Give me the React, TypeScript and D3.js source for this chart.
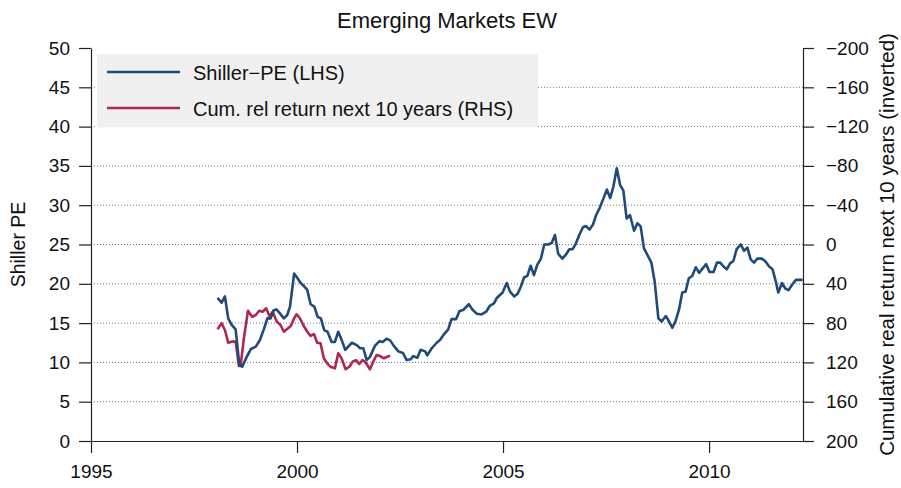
import React, { useEffect, useRef } from 'react';
import * as d3 from 'd3';

// Shiller PE (decimal year, value)
const peDates = [
  1998.07, 1998.17, 1998.25, 1998.33, 1998.41, 1998.51, 1998.6, 1998.67, 1998.78, 1998.88,
  1999.0, 1999.1, 1999.2, 1999.28, 1999.36, 1999.43, 1999.5, 1999.59, 1999.68, 1999.76,
  1999.83, 1999.93, 2000.0, 2000.09, 2000.19, 2000.25, 2000.33, 2000.42, 2000.5, 2000.58,
  2000.66, 2000.74, 2000.84, 2000.92, 2001.0, 2001.08, 2001.17, 2001.33, 2001.45, 2001.53,
  2001.61, 2001.69, 2001.77, 2001.89, 2002.0, 2002.08, 2002.17, 2002.26, 2002.35, 2002.46,
  2002.57, 2002.66, 2002.76, 2002.82, 2002.92, 2003.0, 2003.11, 2003.16, 2003.27, 2003.39,
  2003.47, 2003.57, 2003.67, 2003.75, 2003.86, 2003.94, 2004.04, 2004.17, 2004.26, 2004.36,
  2004.48, 2004.59, 2004.68, 2004.78, 2004.85, 2004.93, 2004.99, 2005.09, 2005.17, 2005.27,
  2005.35, 2005.43, 2005.51, 2005.59, 2005.67, 2005.75, 2005.83, 2005.92, 2006.0, 2006.1,
  2006.18, 2006.26, 2006.34, 2006.44, 2006.53, 2006.61, 2006.69, 2006.77, 2006.85, 2006.94,
  2007.01, 2007.1, 2007.18, 2007.26, 2007.35, 2007.44, 2007.52, 2007.6, 2007.68, 2007.76,
  2007.84, 2007.92, 2008.0, 2008.08, 2008.18, 2008.26, 2008.34, 2008.42, 2008.5, 2008.6,
  2008.68, 2008.77, 2008.85, 2008.95, 2009.03, 2009.11, 2009.19, 2009.27, 2009.35, 2009.43,
  2009.51, 2009.59, 2009.68, 2009.76, 2009.85, 2009.93, 2010.01, 2010.11, 2010.19, 2010.27,
  2010.35, 2010.43, 2010.51, 2010.59, 2010.67, 2010.77, 2010.85, 2010.93, 2011.01, 2011.09,
  2011.17, 2011.28, 2011.36, 2011.46, 2011.54, 2011.6, 2011.68, 2011.77, 2011.85, 2011.93,
  2012.01, 2012.11, 2012.27,
];
const peValues = [
  18.2, 17.6, 18.4, 15.6, 14.8, 14.2, 9.7, 9.45, 10.7, 11.7,
  12.0, 12.85, 14.3, 15.6, 15.6, 16.6, 16.75, 16.2, 15.6, 16.0,
  17.1, 21.3, 20.8, 20.1, 19.6, 19.2, 17.4, 17.1, 15.8, 15.6,
  14.1, 13.9, 12.6, 12.6, 13.9, 12.9, 11.6, 12.5, 12.2, 11.8,
  11.8, 10.3, 10.7, 12.1, 12.7, 12.6, 13.0, 12.8, 12.1, 11.4,
  11.2, 10.3, 10.4, 10.8, 10.6, 11.6, 11.4, 10.9, 11.8, 12.5,
  12.85, 13.6, 14.2, 15.5, 15.5, 16.5, 16.7, 17.4, 16.7, 16.2,
  16.1, 16.45, 17.2, 17.5, 18.2, 18.6, 18.9, 20.1, 19.0, 18.4,
  18.7, 19.6, 20.8, 21.0, 22.3, 21.1, 22.4, 23.2, 25.0, 25.0,
  25.2, 26.2, 23.8, 23.2, 23.75, 24.4, 24.4, 25.15, 26.2, 27.2,
  27.35, 26.9, 27.5, 28.75, 29.7, 30.9, 32.0, 30.9, 32.4, 34.7,
  32.6, 31.85, 28.3, 28.75, 26.75, 27.7, 27.3, 24.5, 23.7, 22.7,
  20.3, 15.6, 15.2, 15.9, 15.2, 14.4, 15.3, 16.7, 18.9, 19.0,
  20.7, 21.0, 22.1, 21.4, 22.0, 22.5, 21.5, 21.5, 22.7, 22.7,
  22.2, 21.85, 22.6, 22.9, 24.4, 25.0, 24.2, 24.6, 23.1, 22.7,
  23.2, 23.2, 22.9, 22.2, 21.85, 20.7, 18.9, 20.1, 19.4, 19.2,
  19.85, 20.5, 20.5,
];

// cumulative relative return over the next 10 years (right axis, inverted)
const retDates = [
  1998.07, 1998.17, 1998.25, 1998.33, 1998.41, 1998.51, 1998.59, 1998.63, 1998.71, 1998.81,
  1998.91, 1999.0, 1999.08, 1999.17, 1999.25, 1999.33, 1999.41, 1999.51, 1999.6, 1999.68,
  1999.76, 1999.85, 1999.93, 1999.99, 2000.07, 2000.15, 2000.25, 2000.33, 2000.41, 2000.49,
  2000.57, 2000.65, 2000.73, 2000.81, 2000.92, 2001.0, 2001.08, 2001.18, 2001.27, 2001.35,
  2001.43, 2001.51, 2001.59, 2001.67, 2001.77, 2001.85, 2001.93, 2002.01, 2002.11, 2002.19,
  2002.26,
];
const retValues = [
  86.3, 80.2, 87.0, 100, 98.9, 98.9, 123.7, 123.7, 95.5, 67.4,
  73.5, 71.8, 67.4, 68.4, 64.9, 72.8, 68.4, 78.6, 81.9, 88.8,
  86.0, 83.0, 75.1, 71.0, 75.1, 81.9, 88.8, 93.1, 91.1, 100,
  100.6, 115.8, 120.9, 124.4, 126.0, 110.7, 115.8, 127.0, 124.4, 119.3,
  117.6, 121.6, 117.6, 120.3, 127.0, 119.3, 112.5, 113.5, 115.8, 114.2,
  113.2,
];

const xTicks = [1995, 2000, 2005, 2010];
const leftTicks = [0, 5, 10, 15, 20, 25, 30, 35, 40, 45, 50];
const rightTicks = [-200, -160, -120, -80, -40, 0, 40, 80, 120, 160, 200];
const legendLabels = ['Shiller\u2212PE (LHS)', 'Cum. rel return next 10 years (RHS)'];

const peColor = '#1f4a7a';
const retColor = '#b0274b';
const font = '"Liberation Sans", Arial, Helvetica, sans-serif';

export default function App() {
  const ref = useRef<SVGSVGElement>(null);

  useEffect(() => {
    const width = 901;
    const height = 488;
    const left = 91;
    const right = 803;
    const top = 48;
    const bottom = 441;

    const svg = d3.select(ref.current);
    svg.selectAll('*').remove();

    const x = d3.scaleLinear().domain([1995, 2012.28]).range([left, right]);
    const yL = d3.scaleLinear().domain([0, 50]).range([bottom, top]);
    const yR = d3.scaleLinear().domain([-200, 200]).range([top, bottom]);

    svg.append('rect').attr('width', width).attr('height', height).attr('fill', '#fff');

    // dotted gridlines
    svg
      .append('g')
      .selectAll('line')
      .data(leftTicks.filter((d) => d > 0 && d < 50))
      .enter()
      .append('line')
      .attr('x1', left)
      .attr('x2', right)
      .attr('y1', (d) => yL(d))
      .attr('y2', (d) => yL(d))
      .attr('stroke', '#777')
      .attr('stroke-width', 1)
      .attr('stroke-dasharray', '1,2');

    // axes
    const styleAxis = (g: any) => {
      g.select('.domain').attr('stroke', '#222').attr('stroke-width', 1.2);
      g.selectAll('.tick line').attr('stroke', '#222').attr('stroke-width', 1.2);
      g.selectAll('.tick text')
        .attr('fill', '#111')
        .style('font-family', font)
        .style('font-size', '19px');
    };

    svg
      .append('g')
      .attr('transform', 'translate(0,' + bottom + ')')
      .call(d3.axisBottom(x).tickValues(xTicks).tickFormat(d3.format('d')).tickSize(12).tickSizeOuter(0).tickPadding(12))
      .call(styleAxis);

    svg
      .append('g')
      .attr('transform', 'translate(' + left + ',0)')
      .call(d3.axisLeft(yL).tickValues(leftTicks).tickSize(12).tickSizeOuter(0).tickPadding(9))
      .call(styleAxis);

    svg
      .append('g')
      .attr('transform', 'translate(' + right + ',0)')
      .call(d3.axisRight(yR).tickValues(rightTicks).tickSize(11).tickSizeOuter(0).tickPadding(12))
      .call(styleAxis);

    svg.selectAll('.domain').attr('fill', 'none');

    // legend
    const legend = svg.append('g');
    legend
      .append('rect')
      .attr('x', 97)
      .attr('y', 54)
      .attr('width', 441)
      .attr('height', 73)
      .attr('fill', '#f0f0f0');
    [peColor, retColor].forEach((c, i) => {
      const ly = 72 + i * 36;
      legend
        .append('line')
        .attr('x1', 107)
        .attr('x2', 180)
        .attr('y1', ly)
        .attr('y2', ly)
        .attr('stroke', c)
        .attr('stroke-width', 2.5);
      legend
        .append('text')
        .attr('x', 193)
        .attr('y', ly + 8)
        .style('font-family', font)
        .style('font-size', '20px')
        .attr('fill', '#111')
        .text(legendLabels[i]);
    });

    // series
    const peLine = d3
      .line<number>()
      .x((d, i) => x(peDates[i]))
      .y((d) => yL(d));
    const retLine = d3
      .line<number>()
      .x((d, i) => x(retDates[i]))
      .y((d) => yR(d));

    svg
      .append('path')
      .attr('d', retLine(retValues))
      .attr('fill', 'none')
      .attr('stroke', retColor)
      .attr('stroke-width', 2.6)
      .attr('stroke-linejoin', 'round');

    svg
      .append('path')
      .attr('d', peLine(peValues))
      .attr('fill', 'none')
      .attr('stroke', peColor)
      .attr('stroke-width', 2.6)
      .attr('stroke-linejoin', 'round');

    // titles
    svg
      .append('text')
      .attr('x', (left + right) / 2)
      .attr('y', 28)
      .style('text-anchor', 'middle')
      .style('font-family', font)
      .style('font-size', '22px')
      .attr('fill', '#111')
      .text('Emerging Markets EW');

    svg
      .append('text')
      .attr('transform', 'translate(25,' + (top + bottom) / 2 + ') rotate(-90)')
      .style('text-anchor', 'middle')
      .style('font-family', font)
      .style('font-size', '19.5px')
      .attr('fill', '#111')
      .text('Shiller PE');

    svg
      .append('text')
      .attr('transform', 'translate(894,' + (top + bottom) / 2 + ') rotate(-90)')
      .style('text-anchor', 'middle')
      .style('font-family', font)
      .style('font-size', '20.5px')
      .attr('fill', '#111')
      .text('Cumulative real return next 10 years (inverted)');
  }, []);

  return (
    <svg
      ref={ref}
      width={901}
      height={488}
      style={{ position: 'absolute', left: 0, top: 0, display: 'block' }}
    />
  );
}
